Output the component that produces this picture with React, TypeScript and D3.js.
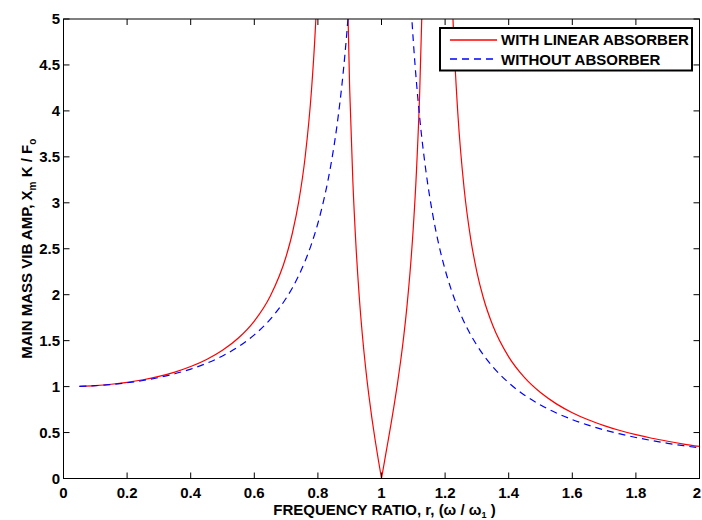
import React from "react";
import * as d3 from "d3";

// ---- data ----
const xTicks = [0, 0.2, 0.4, 0.6, 0.8, 1, 1.2, 1.4, 1.6, 1.8, 2];
const yTicks = [0, 0.5, 1, 1.5, 2, 2.5, 3, 3.5, 4, 4.5, 5];

// with linear absorber (red), four branches between the resonances
const ratioLow = [0.05, 0.1, 0.15, 0.2, 0.25, 0.3, 0.35, 0.4, 0.45, 0.5, 0.55, 0.6, 0.65, 0.7, 0.72, 0.74, 0.76, 0.78, 0.79, 0.8, 0.81, 0.82];
const absorberLow = [1.0028, 1.0111, 1.0254, 1.0462, 1.0743, 1.111, 1.158, 1.2181, 1.2952, 1.3953, 1.5287, 1.7131, 1.9828, 2.4159, 2.6741, 3.0179, 3.5007, 4.233, 4.7648, 5.4878, 6.531, 8.173];

const ratioMid = [0.88, 0.89, 0.9, 0.91, 0.92, 0.93, 0.94, 0.95, 0.96, 0.97, 0.98, 0.99, 1.0];
const absorberMid = [8.499, 5.777, 4.232, 3.228, 2.516, 1.98, 1.556, 1.2075, 0.9115, 0.6523, 0.4192, 0.2039, 0];

const ratioRise = [1.0, 1.01, 1.02, 1.03, 1.04, 1.05, 1.06, 1.07, 1.08, 1.09, 1.1, 1.11, 1.12, 1.13, 1.14];
const absorberRise = [0, 0.1978, 0.3945, 0.5948, 0.8039, 1.0276, 1.2731, 1.5498, 1.8707, 2.2547, 2.7308, 3.3473, 4.1897, 5.4277, 7.4527];

const ratioHigh = [1.2, 1.21, 1.22, 1.23, 1.24, 1.26, 1.28, 1.3, 1.32, 1.35, 1.4, 1.45, 1.5, 1.55, 1.6, 1.65, 1.7, 1.75, 1.8, 1.85, 1.9, 1.95, 2.0];
const absorberHigh = [8.871, 6.728, 5.445, 4.589, 3.975, 3.15, 2.619, 2.247, 1.9697, 1.664, 1.323, 1.097, 0.935, 0.812, 0.716, 0.639, 0.576, 0.522, 0.477, 0.438, 0.405, 0.375, 0.349];

// without absorber (blue dashed)
const ratioBlueLow = [0.05, 0.1, 0.15, 0.2, 0.25, 0.3, 0.35, 0.4, 0.45, 0.5, 0.55, 0.6, 0.65, 0.7, 0.72, 0.74, 0.76, 0.78, 0.8, 0.82, 0.84, 0.86, 0.88, 0.89, 0.9, 0.91];
const withoutLow = [1.0025, 1.0101, 1.023, 1.0417, 1.0667, 1.0989, 1.1396, 1.1905, 1.2539, 1.3333, 1.4337, 1.5625, 1.7316, 1.9608, 2.0764, 2.2104, 2.3674, 2.5536, 2.7778, 3.0525, 3.3967, 3.8402, 4.4326, 4.81, 5.2632, 5.8173];

const ratioBlueHigh = [1.08, 1.09, 1.1, 1.12, 1.14, 1.16, 1.18, 1.2, 1.22, 1.25, 1.27, 1.3, 1.35, 1.4, 1.45, 1.5, 1.55, 1.6, 1.65, 1.7, 1.75, 1.8, 1.85, 1.9, 1.95, 2.0];
const withoutHigh = [6.0096, 5.3163, 4.7619, 3.9308, 3.3378, 2.8935, 2.5484, 2.2727, 2.0475, 1.7778, 1.6316, 1.4493, 1.2158, 1.0417, 0.907, 0.8, 0.713, 0.641, 0.5806, 0.5291, 0.4848, 0.4464, 0.4128, 0.3831, 0.3568, 0.3333];

const legendLabels = ["WITH LINEAR ABSORBER", "WITHOUT ABSORBER"];

// ---- layout ----
const W = 702;
const H = 520;
const left = 63.5;
const right = 699.5;
const top = 19;
const bottom = 478.5;
const FONT = "'Liberation Sans', Arial, Helvetica, sans-serif";
const FS = 15;

export default function App() {
  const x = d3.scaleLinear().domain([0, 2]).range([left, right]);
  const y = d3.scaleLinear().domain([0, 5]).range([bottom, top]);

  const line = d3
    .line<[number, number]>()
    .x((d) => x(d[0]))
    .y((d) => y(d[1]))
    .curve(d3.curveMonotoneX);

  const zip = (a: number[], b: number[]) => a.map((v, i) => [v, b[i]] as [number, number]);

  const redSegs = [
    zip(ratioLow, absorberLow),
    zip(ratioMid, absorberMid),
    zip(ratioRise, absorberRise),
    zip(ratioHigh, absorberHigh),
  ];
  const blueSegs = [zip(ratioBlueLow, withoutLow), zip(ratioBlueHigh, withoutHigh)];

  const tickLen = 6;

  return (
    <svg
      width={W}
      height={H}
      style={{ position: "absolute", left: 0, top: 0, background: "#fff" }}
      fontFamily={FONT}
    >
      <defs>
        <clipPath id="plotclip">
          <rect x={left} y={top} width={right - left} height={bottom - top} />
        </clipPath>
      </defs>
      <rect x={0} y={0} width={W} height={H} fill="#fff" />

      {/* curves */}
      <g clipPath="url(#plotclip)" fill="none">
        {redSegs.map((s, i) => (
          <path key={"r" + i} d={line(s) || ""} stroke="#ff0000" strokeWidth={1.2} />
        ))}
        {blueSegs.map((s, i) => (
          <path key={"b" + i} d={line(s) || ""} stroke="#0000ff" strokeWidth={1.2} strokeDasharray="7,5" />
        ))}
      </g>

      {/* ticks */}
      <g stroke="#000" strokeWidth={1}>
        {xTicks.map((t) => (
          <g key={"xt" + t}>
            <line x1={x(t)} x2={x(t)} y1={bottom} y2={bottom - tickLen} />
            <line x1={x(t)} x2={x(t)} y1={top} y2={top + tickLen} />
          </g>
        ))}
        {yTicks.map((t) => (
          <g key={"yt" + t}>
            <line x1={left} x2={left + tickLen} y1={y(t)} y2={y(t)} />
            <line x1={right} x2={right - tickLen} y1={y(t)} y2={y(t)} />
          </g>
        ))}
      </g>

      {/* frame */}
      <rect x={left} y={top} width={right - left} height={bottom - top} fill="none" stroke="#000" strokeWidth={1} />

      {/* tick labels */}
      <g fontSize={FS} fontWeight="bold" fill="#000">
        {xTicks.map((t) => (
          <text key={"xl" + t} x={Math.min(x(t), 697)} y={497.5} textAnchor="middle">
            {d3.format("~g")(t)}
          </text>
        ))}
        {yTicks.map((t) => (
          <text key={"yl" + t} x={60} y={y(t) + 5} textAnchor="end">
            {d3.format("~g")(t)}
          </text>
        ))}
      </g>

      {/* axis labels */}
      <text x={(left + right) / 2 + 3} y={515} textAnchor="middle" fontSize={FS} fontWeight="bold">
        FREQUENCY RATIO, r, (ω / ω
        <tspan fontSize={9} dy={3}>1</tspan>
        <tspan dy={-3}> )</tspan>
      </text>
      <text
        transform={`translate(32,${(top + bottom) / 2}) rotate(-90)`}
        textAnchor="middle"
        fontSize={FS}
        fontWeight="bold"
      >
        MAIN MASS VIB AMP, X
        <tspan fontSize={10} dy={4}>m</tspan>
        <tspan dy={-4}> K / F</tspan>
        <tspan fontSize={10} dy={4}>o</tspan>
      </text>

      {/* legend */}
      <g>
        <rect x={440} y={28} width={252} height={42.5} fill="#fff" stroke="#000" strokeWidth={2} />
        <line x1={450} x2={497} y1={40} y2={40} stroke="#ff0000" strokeWidth={1.5} />
        <line x1={450} x2={497} y1={59} y2={59} stroke="#0000ff" strokeWidth={1.5} strokeDasharray="7,5" />
        <text x={501} y={45} fontSize={FS} fontWeight="bold">{legendLabels[0]}</text>
        <text x={501} y={64.5} fontSize={FS} fontWeight="bold">{legendLabels[1]}</text>
      </g>
    </svg>
  );
}
